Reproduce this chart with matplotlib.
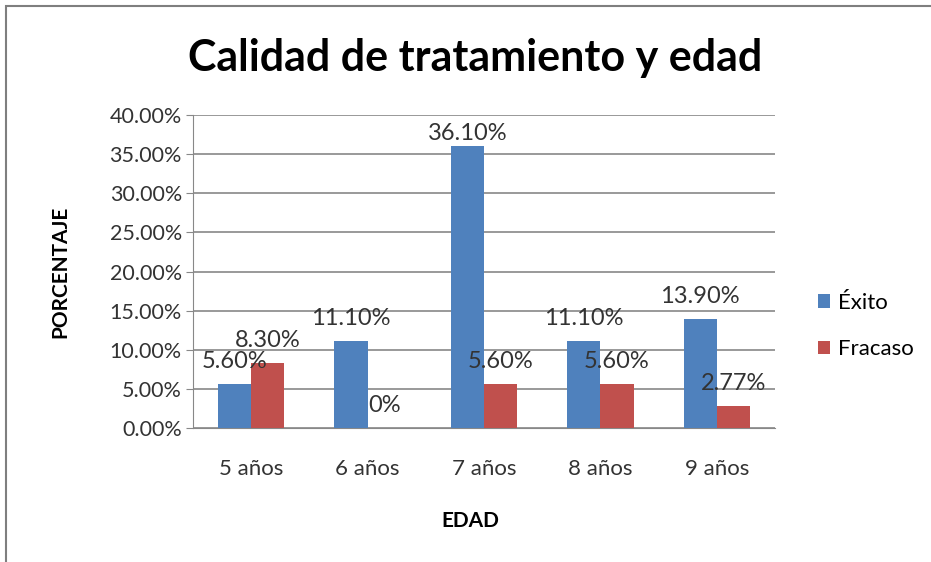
import matplotlib
matplotlib.use("Agg")
import matplotlib.pyplot as plt
import numpy as np
from matplotlib.patches import Rectangle

categories = ["5 años", "6 años", "7 años", "8 años", "9 años"]
exito = [5.60, 11.10, 36.10, 11.10, 13.90]
fracaso = [8.30, 0.0, 5.60, 5.60, 2.77]
exito_labels = ["5.60%", "11.10%", "36.10%", "11.10%", "13.90%"]
fracaso_labels = ["8.30%", "0%", "5.60%", "5.60%", "2.77%"]
yticks = [0, 5, 10, 15, 20, 25, 30, 35, 40]

plt.rcParams['font.family'] = ['Lato', 'DejaVu Sans']

fig = plt.figure(figsize=(9.31, 5.62), dpi=100)
ax = fig.add_axes([193/931, 1-428/562, (775-193)/931, (428-115)/562])

# outer chart border
fig.patches.append(Rectangle((6/931, -0.02), 1.05, 1-6/562+0.02, transform=fig.transFigure,
                             fill=False, edgecolor="#7f7f7f", linewidth=1.5))

x = np.arange(len(categories))
w = 0.2857
blue = "#4F81BD"
red = "#C0504D"
ax.bar(x - w/2, exito, w, color=blue, zorder=3, label="Éxito")
ax.bar(x + w/2, fracaso, w, color=red, zorder=3, label="Fracaso")

ymax = 40

def label(xpos, val, txt):
    off = 1 if val > 0.85 * ymax else 9
    ax.annotate(txt, (xpos, val), xytext=(0, off), textcoords="offset points",
                ha="center", va="bottom", fontsize=17, color="#333333", zorder=4)

for i in range(len(categories)):
    label(x[i] - w/2, exito[i], exito_labels[i])
    label(x[i] + w/2, fracaso[i], fracaso_labels[i])

ax.set_xlim(-0.5, len(categories) - 0.5)
ax.set_ylim(0, ymax)
ax.set_yticks(yticks)
ax.set_yticklabels([f"{v:.2f}%" for v in yticks], fontsize=15.5, color="#333333")
ax.set_xticks(x)
ax.set_xticklabels(categories, fontsize=16, color="#333333")
ax.tick_params(axis="x", length=0, pad=22)
ax.tick_params(axis="y", length=5, color="#888888", pad=3)
ax.grid(axis="y", color="#888888", linewidth=1.2, zorder=0)
for s in ["top", "right"]:
    ax.spines[s].set_visible(False)
ax.spines["left"].set_color("#888888")
ax.spines["bottom"].set_color("#888888")

ax.set_ylabel("PORCENTAJE", fontsize=15, fontweight="bold")
ax.yaxis.set_label_coords(-(193-70)/582, (428-272)/313)
ax.set_xlabel("EDAD", fontsize=15, fontweight="bold")
ax.xaxis.set_label_coords((470-193)/582, -(511-428)/313)

fig.text(475/931, 1-58/562, "Calidad de tratamiento y edad", ha="center", va="center",
         fontsize=31, fontweight="bold")

leg = fig.legend(loc="center left", bbox_to_anchor=(798/931, 1-326/562), frameon=False,
                 fontsize=16, handlelength=0.55, handleheight=0.55, handletextpad=0.35,
                 labelspacing=1.2)

fig.savefig("out.png", dpi=100)
